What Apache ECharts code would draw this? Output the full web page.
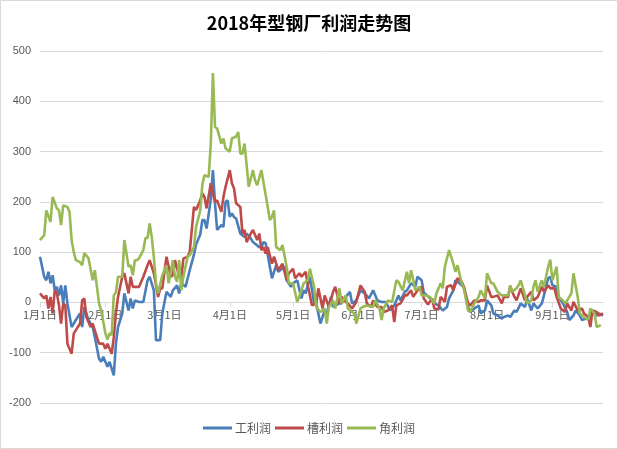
<!DOCTYPE html>
<html>
<head>
<meta charset="utf-8">
<script src="https://cdn.jsdelivr.net/npm/echarts@6/dist/echarts.min.js"></script>
<style>
html,body{margin:0;padding:0;background:#fff;}
#chart{width:618px;height:449px;}
</style>
</head>
<body>
<div id="chart"></div>
<script>
// ---- data ----
const titleText = '2018年型钢厂利润走势图';
const seriesNames = ['工利润', '槽利润', '角利润'];
const monthDays = [31, 28, 31, 30, 31, 30, 31, 31, 30];
const lastDayIndex = 267; // Jan 1 .. Sep 25
const yTicks = [-200, -100, 0, 100, 200, 300, 400, 500];

// 工利润 (day index from Jan 1, value)
const gongDays = [0,2,3,4,5,6,7,8,9,10,11,12,13,15,17,19,20,21,23,25,26,28,29,30,32,33,35,36,37,39,40,42,43,44,45,47,49,51,52,54,55,57,58,60,62,63,65,66,67,69,71,73,74,76,77,78,79,81,82,83,84,86,87,88,89,90,91,92,93,95,97,98,100,101,104,105,106,107,109,110,112,113,116,117,119,120,122,124,125,126,128,130,131,133,135,136,138,139,142,143,145,147,148,150,152,154,156,158,160,162,164,166,168,170,171,173,174,176,178,179,181,182,185,186,188,189,191,193,194,196,197,199,200,201,203,204,206,208,209,211,212,214,215,217,219,220,222,223,225,226,228,230,231,233,234,236,238,239,241,242,243,245,246,248,250,251,253,254,256,257,259,261,262,264,265,267];
const gongVals = [91,51,44,61,38,54,24,31,14,34,-2,34,-2,-49,-35,-22,-49,-9,-35,-49,-69,-112,-118,-108,-128,-118,-145,-82,-49,-22,18,-16,8,-12,4,1,1,44,51,24,-75,-75,-22,21,11,24,34,18,38,31,64,95,115,135,164,164,147,205,263,197,144,154,150,200,203,170,177,170,167,137,130,137,127,120,110,110,120,118,71,48,74,61,71,44,31,38,44,8,24,18,51,-2,-2,-42,-16,-22,11,-9,-2,-2,11,21,-2,4,24,18,8,24,4,1,1,-16,-6,14,4,21,24,38,31,51,44,20,8,4,-4,-6,-16,-9,8,24,44,38,34,31,-9,-19,-12,-6,-22,-16,4,-6,-22,-26,-32,-29,-26,-29,-16,-19,-2,-9,8,-16,-2,-12,-2,14,48,51,34,31,11,-2,-19,-35,-26,-16,-26,-35,-32,-32,-19,-26,-22,-26];

// 槽利润
const caoDays = [0,2,3,4,5,6,7,8,9,10,11,12,13,15,16,17,19,20,21,22,24,25,27,28,30,31,32,34,35,36,37,39,40,42,43,44,46,47,49,51,52,54,56,57,58,59,60,62,63,64,66,67,68,70,71,73,74,75,76,77,78,79,81,82,83,84,86,87,88,90,91,92,93,95,96,97,98,100,101,103,104,105,106,107,108,110,111,113,115,117,118,120,121,123,124,126,127,129,131,132,134,135,137,139,140,142,143,145,146,148,150,152,154,155,157,158,160,162,163,165,167,168,169,171,173,174,176,177,179,181,182,184,186,187,189,190,192,193,195,196,198,200,201,203,204,206,208,209,211,212,214,215,217,219,220,222,223,225,226,228,230,231,233,234,236,238,239,241,242,244,245,247,249,250,252,253,255,257,258,260,261,262,264,265,267];
const caoVals = [18,8,14,-12,11,-22,24,18,-6,-42,-2,-6,-82,-102,-62,-55,-42,4,8,-29,-49,-42,-69,-82,-82,-92,-82,-102,-69,-22,11,51,58,18,51,31,31,31,51,74,84,58,11,28,28,61,91,51,54,84,51,48,87,91,100,190,184,193,203,217,210,187,237,217,200,203,180,210,230,263,237,227,197,190,137,144,120,137,144,124,137,104,110,97,110,77,91,64,77,44,58,67,48,58,51,61,34,-6,-2,28,-12,14,-9,21,31,-2,11,1,-2,-12,1,34,21,-2,-9,4,-9,-9,-19,-16,-6,-39,-6,-2,14,14,24,11,24,31,8,-4,8,-12,-14,11,1,31,34,24,48,41,31,-2,-6,4,1,4,4,34,11,11,14,-2,11,11,31,11,4,28,4,11,21,4,11,31,21,34,28,28,11,-12,-19,-2,-16,1,-16,-12,-22,-29,-49,-16,-19,-26,-22];

// 角利润
const jiaoDays = [0,2,3,5,6,8,9,10,11,13,14,15,16,17,19,20,21,23,25,26,28,29,31,32,33,34,35,36,37,39,40,42,43,44,45,46,47,49,50,51,52,53,54,55,56,58,59,60,61,63,64,65,66,67,68,70,71,73,74,76,77,78,80,81,82,83,84,86,87,88,90,91,93,94,95,96,97,99,101,102,103,105,108,109,110,111,112,114,115,117,118,120,122,124,125,127,128,130,131,133,135,136,137,139,140,142,143,145,146,149,150,152,153,155,158,159,161,162,163,165,167,169,170,172,174,175,176,178,180,181,183,185,187,188,190,191,192,194,196,197,198,200,201,203,204,206,208,209,211,212,214,215,217,219,220,222,223,224,226,227,228,230,231,233,234,235,236,238,239,241,242,243,245,246,248,249,250,252,253,255,256,258,260,261,263,264,266];
const jiaoVals = [124,134,183,160,210,187,183,154,193,190,180,124,100,84,80,74,98,88,44,64,-2,-16,-61,-74,-61,-65,14,20,51,51,124,71,74,54,84,84,88,104,128,128,157,130,90,38,18,54,64,74,38,84,51,41,84,24,51,91,94,110,150,183,235,253,250,316,456,349,346,316,326,306,300,326,330,339,296,296,316,230,263,243,233,263,190,164,170,183,110,104,114,70,38,38,1,24,38,44,67,31,-9,-19,-12,-42,-9,4,-12,28,-2,14,-12,-22,-42,-12,-9,-6,-9,4,-12,-35,-12,4,1,44,41,24,61,38,64,24,31,14,14,11,-2,18,38,28,71,104,77,61,74,38,28,-16,-19,-2,11,24,8,58,38,38,21,14,14,14,34,21,28,34,44,14,-2,4,31,44,21,44,31,71,85,44,71,11,4,-2,4,18,58,11,-22,-29,-35,-12,-22,-49,-45];

// month-start tick labels
const monthStartIdx = [0, 31, 59, 90, 120, 151, 181, 212, 243];
const monthLabels = ['1月1日','2月1日','3月1日','4月1日','5月1日','6月1日','7月1日','8月1日','9月1日'];

// ---- build ----
const categories = [];
for (let m = 0; m < monthDays.length; m++) {
  for (let d = 1; d <= monthDays[m]; d++) {
    if (categories.length <= lastDayIndex) categories.push((m + 1) + '月' + d + '日');
  }
}
const isMonthStart = (idx) => monthStartIdx.indexOf(idx) >= 0;
const pairs = (days, vals) => days.map((d, i) => [d, vals[i]]);

const gridTop = 51, gridBottom = 46, chartH = 449;
const plotH = chartH - gridTop - gridBottom;
const yMin = yTicks[0], yMax = yTicks[yTicks.length - 1];
// put the category axis on the zero line (offset from the bottom edge of the grid)
const zeroOffset = -plotH * (0 - yMin) / (yMax - yMin);

const colors = ['#4A7EBB', '#BE4B48', '#98B954'];
const chart = echarts.init(document.getElementById('chart'), null, {renderer: 'canvas'});
const fontCJK = '"Noto Sans CJK SC", "Noto Sans", sans-serif';

chart.setOption({
  animation: false,
  backgroundColor: '#fff',
  color: colors,
  title: {
    text: titleText,
    left: 'center',
    top: 9,
    textStyle: {fontSize: 18, fontWeight: 'bold', color: '#000', fontFamily: fontCJK}
  },
  graphic: [{
    type: 'rect', shape: {x: 0.5, y: 0.5, width: 617, height: 448},
    style: {fill: 'none', stroke: '#d9d9d9', lineWidth: 1}, silent: true, z: -10
  }],
  legend: {
    bottom: 10,
    left: 'center',
    itemWidth: 29,
    itemHeight: 3,
    itemGap: 4,
    icon: 'rect',
    data: seriesNames,
    textStyle: {fontSize: 12, color: '#595959', fontFamily: fontCJK, padding: [0, 0, 0, -2]}
  },
  grid: {left: 40, right: 15, top: gridTop, bottom: gridBottom, containLabel: false},
  xAxis: {
    type: 'category',
    data: categories,
    boundaryGap: false,
    offset: zeroOffset,
    axisLine: {onZero: false, lineStyle: {color: '#d9d9d9', width: 1}},
    axisTick: {show: true, length: 5, interval: (idx) => isMonthStart(idx), lineStyle: {color: '#d9d9d9'}},
    axisLabel: {
      interval: (idx) => isMonthStart(idx),
      formatter: (v, idx) => monthLabels[monthStartIdx.indexOf(idx)] || '',
      fontSize: 11, color: '#595959', margin: 7, fontFamily: fontCJK
    },
    splitLine: {show: false}
  },
  yAxis: {
    type: 'value',
    min: yMin,
    max: yMax,
    interval: 100,
    axisLine: {show: false},
    axisTick: {show: false},
    axisLabel: {fontSize: 11, color: '#595959', margin: 9, fontFamily: '"Liberation Sans", Arial, sans-serif'},
    splitLine: {lineStyle: {color: '#d9d9d9', width: 1}}
  },
  series: [
    {name: seriesNames[0], type: 'line', data: pairs(gongDays, gongVals), showSymbol: false, lineStyle: {width: 2.6, color: colors[0]}, itemStyle: {color: colors[0]}},
    {name: seriesNames[1], type: 'line', data: pairs(caoDays, caoVals), showSymbol: false, lineStyle: {width: 2.6, color: colors[1]}, itemStyle: {color: colors[1]}},
    {name: seriesNames[2], type: 'line', data: pairs(jiaoDays, jiaoVals), showSymbol: false, lineStyle: {width: 2.6, color: colors[2]}, itemStyle: {color: colors[2]}}
  ]
});
</script>
</body>
</html>
